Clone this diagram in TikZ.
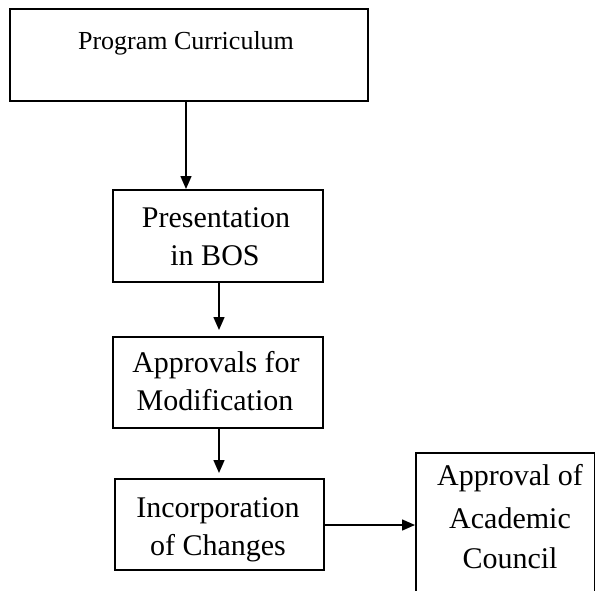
\documentclass[tikz,border=0pt]{standalone}
\usepackage{fontspec}
\setmainfont{Liberation Serif}
\usetikzlibrary{arrows.meta}

\tikzset{
  frame/.style={draw, line width=1.5pt, inner sep=0pt, anchor=north west},
  title text/.style={font=\fontsize{26}{38}\selectfont, inner sep=0pt, anchor=base},
  label text/.style={font=\fontsize{30}{38}\selectfont, inner sep=0pt, anchor=base},
  flow/.style={line width=1.5pt, -{Triangle[width=11pt,length=13pt]}}
}

\begin{document}
\begin{tikzpicture}[x=1pt, y=-1pt]
  \useasboundingbox (0,0) rectangle (595,590);
  \clip (0,0) rectangle (595,590);

  % boxes (top-left corner, width, height)
  \node[frame, minimum width=358pt, minimum height=92pt] (pc) at (9,8) {};
  \node[frame, minimum width=210pt, minimum height=92pt] (pb) at (112,189) {};
  \node[frame, minimum width=210pt, minimum height=91pt] (am) at (112,336) {};
  \node[frame, minimum width=209pt, minimum height=91pt] (ic) at (114,478) {};
  \node[frame, minimum width=179pt, minimum height=160pt] (ac) at (415,452) {};

  % box texts, one node per printed line
  \node[title text] (pct) at (186,49) {Program Curriculum};
  \node[label text] (pbt) at (216,227) {Presentation};
  \node[label text] (pbt2) at (215,265) {in BOS};
  \node[label text] (amt) at (216,372) {Approvals for};
  \node[label text] (amt2) at (215,410) {Modification};
  \node[label text] (ict) at (218,517) {Incorporation};
  \node[label text] (ict2) at (218,555) {of Changes};
  \node[label text] (act) at (510,485) {Approval of};
  \node[label text] (act2) at (510,528) {Academic};
  \node[label text] (act3) at (510,568) {Council};

  % connectors
  \draw[flow] (pc.south -| 186,0) -- (pb.north -| 186,0);
  \draw[flow, shorten >=6pt] (pb.south -| 219,0) -- (am.north -| 219,0);
  \draw[flow, shorten >=5pt] (am.south -| 219,0) -- (ic.north -| 219,0);
  \draw[flow] (ic.east |- 0,525) -- (ac.west |- 0,525);
\end{tikzpicture}
\end{document}
